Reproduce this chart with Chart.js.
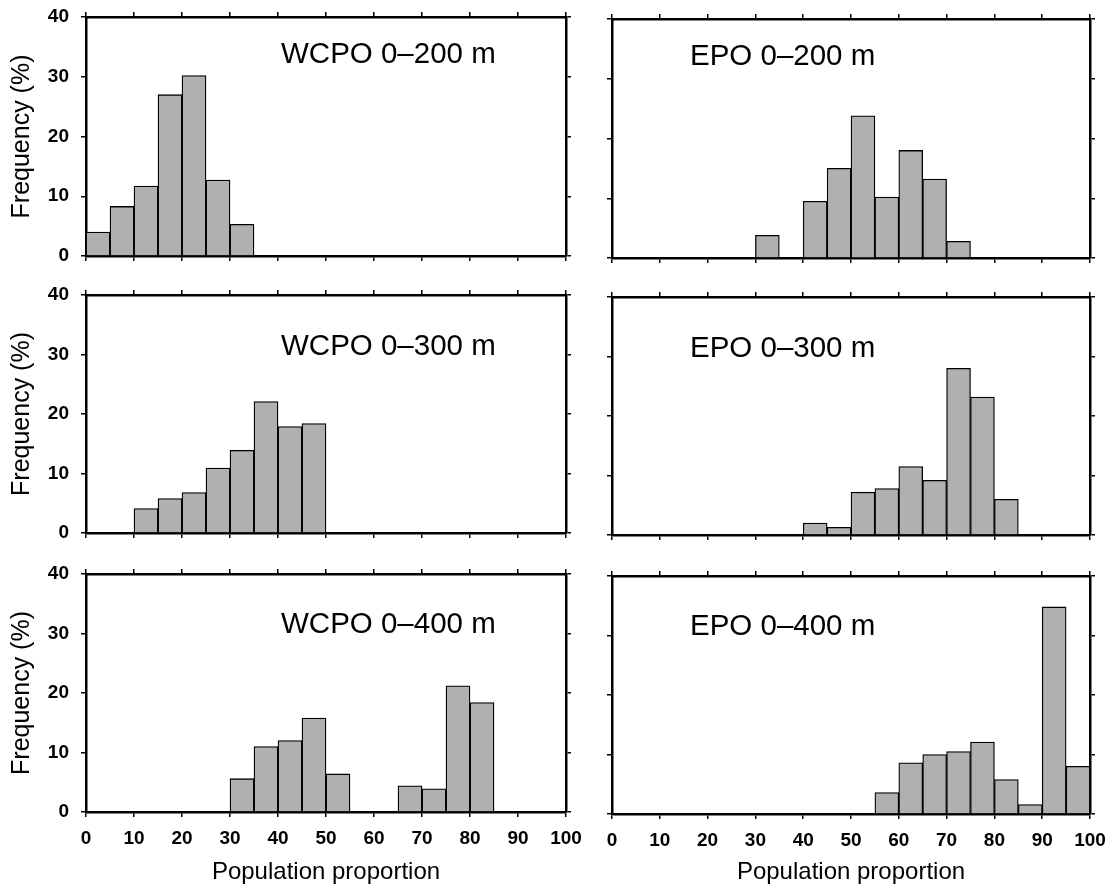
<!DOCTYPE html>
<html>
<head>
<meta charset="utf-8">
<script src="https://cdn.jsdelivr.net/npm/chart.js@4/dist/chart.umd.min.js"></script>
<style>
html,body{margin:0;padding:0;background:#fff;width:1112px;height:892px;overflow:hidden;position:relative}
canvas{position:absolute}
</style>
</head>
<body>
<canvas id="c0"></canvas><canvas id="c1"></canvas>
<canvas id="c2"></canvas><canvas id="c3"></canvas>
<canvas id="c4"></canvas><canvas id="c5"></canvas>
<script>
// Histogram bins (population proportion, %)
const binLabels = ['0-5','5-10','10-15','15-20','20-25','25-30','30-35','35-40','40-45','45-50',
                   '50-55','55-60','60-65','65-70','70-75','75-80','80-85','85-90','90-95','95-100'];

// Frequency (%) per bin
const wcpo200 = [4.0, 8.3, 11.7, 27.0, 30.2, 12.7, 5.3, 0, 0, 0, 0, 0, 0, 0, 0, 0, 0, 0, 0, 0];
const epo200  = [0, 0, 0, 0, 0, 0, 3.8, 0, 9.5, 15.0, 23.8, 10.2, 18.0, 13.2, 2.8, 0, 0, 0, 0, 0];
const wcpo300 = [0, 0, 4.1, 5.8, 6.8, 10.9, 13.9, 22.1, 17.9, 18.4, 0, 0, 0, 0, 0, 0, 0, 0, 0, 0];
const epo300  = [0, 0, 0, 0, 0, 0, 0, 0, 2.0, 1.3, 7.2, 7.8, 11.5, 9.2, 28.0, 23.2, 6.0, 0, 0, 0];
const wcpo400 = [0, 0, 0, 0, 0, 0, 5.6, 11.0, 12.0, 15.8, 6.4, 0, 0, 4.4, 3.9, 21.2, 18.4, 0, 0, 0];
const epo400  = [0, 0, 0, 0, 0, 0, 0, 0, 0, 0, 0, 3.6, 8.6, 10.0, 10.5, 12.1, 5.8, 1.6, 34.8, 8.0];

const panelTitles = ['WCPO 0–200 m','EPO 0–200 m','WCPO 0–300 m','EPO 0–300 m','WCPO 0–400 m','EPO 0–400 m'];
const xAxisTitle = 'Population proportion';
const yAxisTitle = 'Frequency (%)';

const FONT = '"Liberation Sans", Arial, Helvetica, sans-serif';

const series = [wcpo200, epo200, wcpo300, epo300, wcpo400, epo400];

const colGeom = [
  {areaLeft: 86, areaW: 480, leftW: 86, labelDx: 195},
  {areaLeft: 612, areaW: 478, leftW: 14, labelDx: 78}
];
const rowGeom = [
  {top: [17, 19], h: 239, labelDy: 38},
  {top: [295, 297], h: 238, labelDy: 52},
  {top: [574, 576], h: 238, labelDy: 51}
];
const TOPM = 16, RIGHTM = 24;

function makeLabelPlugin(text, dx, dy) {
  return {
    id: 'panelLabel',
    afterDatasetsDraw(chart) {
      const {ctx, chartArea} = chart;
      ctx.save();
      ctx.font = '29.5px ' + FONT;
      ctx.fillStyle = '#000';
      ctx.textBaseline = 'middle';
      ctx.textAlign = 'left';
      ctx.fillText(text, chartArea.left + dx, chartArea.top + dy);
      ctx.restore();
    }
  };
}

const gridOpts = {drawOnChartArea: false, drawTicks: true, tickLength: 5, color: '#000', lineWidth: 1.5, offset: false};
const borderOpts = {display: true, color: '#000', width: 2.5};
function noPad(s) { s.paddingLeft = 0; s.paddingRight = 0; s.paddingTop = 0; s.paddingBottom = 0; }

for (let i = 0; i < 6; i++) {
  const col = i % 2, row = Math.floor(i / 2);
  const cg = colGeom[col], rg = rowGeom[row];
  const isLeft = col === 0, isBottom = row === 2;
  const areaTop = rg.top[col];
  const bottomH = isBottom ? (892 - (areaTop + rg.h)) : 8;
  const topM = Math.min(TOPM, areaTop);
  const cv = document.getElementById('c' + i);
  cv.width = cg.leftW + cg.areaW + RIGHTM;
  cv.height = topM + rg.h + bottomH;
  cv.style.left = (cg.areaLeft - cg.leftW) + 'px';
  cv.style.top = (areaTop - topM) + 'px';

  new Chart(cv, {
    type: 'bar',
    data: {
      labels: binLabels,
      datasets: [{
        data: series[i],
        xAxisID: 'x', yAxisID: 'y',
        backgroundColor: '#b0b0b0',
        borderColor: '#000',
        borderWidth: 1.3,
        borderSkipped: 'start',
        barPercentage: 1,
        categoryPercentage: 1
      }]
    },
    options: {
      responsive: false,
      animation: false,
      devicePixelRatio: 1,
      layout: {padding: 0, autoPadding: false},
      plugins: {legend: {display: false}, tooltip: {enabled: false}},
      scales: {
        x: {type: 'category', display: false, offset: true},
        xB: {
          type: 'linear', position: 'bottom', min: 0, max: 100, offset: false,
          ticks: {stepSize: 10, display: isBottom, color: '#000', padding: 10, autoSkip: false, maxRotation: 0,
                  font: {family: FONT, size: 19, weight: 'bold'}},
          grid: gridOpts, border: borderOpts,
          title: {display: isBottom, text: xAxisTitle, color: '#000', font: {family: FONT, size: 24},
                  padding: {top: 0, bottom: 5}},
          afterFit: s => { s.height = bottomH; noPad(s); }
        },
        xT: {
          type: 'linear', position: 'top', min: 0, max: 100, offset: false,
          ticks: {stepSize: 10, display: false},
          grid: gridOpts, border: borderOpts,
          afterFit: s => { s.height = topM; noPad(s); }
        },
        y: {
          type: 'linear', position: 'left', min: 0, max: 40,
          ticks: {stepSize: 10, display: isLeft, color: '#000', padding: 12,
                  font: {family: FONT, size: 19, weight: 'bold'}},
          grid: gridOpts, border: borderOpts,
          title: {display: isLeft, text: yAxisTitle, color: '#000', font: {family: FONT, size: 25},
                  padding: {top: 7, bottom: 0}},
          afterFit: s => { s.width = cg.leftW; noPad(s); }
        },
        yR: {
          type: 'linear', position: 'right', min: 0, max: 40,
          ticks: {stepSize: 10, display: false},
          grid: gridOpts, border: borderOpts,
          afterFit: s => { s.width = RIGHTM; noPad(s); }
        }
      }
    },
    plugins: [makeLabelPlugin(panelTitles[i], cg.labelDx, rg.labelDy)]
  });
}
</script>
</body>
</html>
